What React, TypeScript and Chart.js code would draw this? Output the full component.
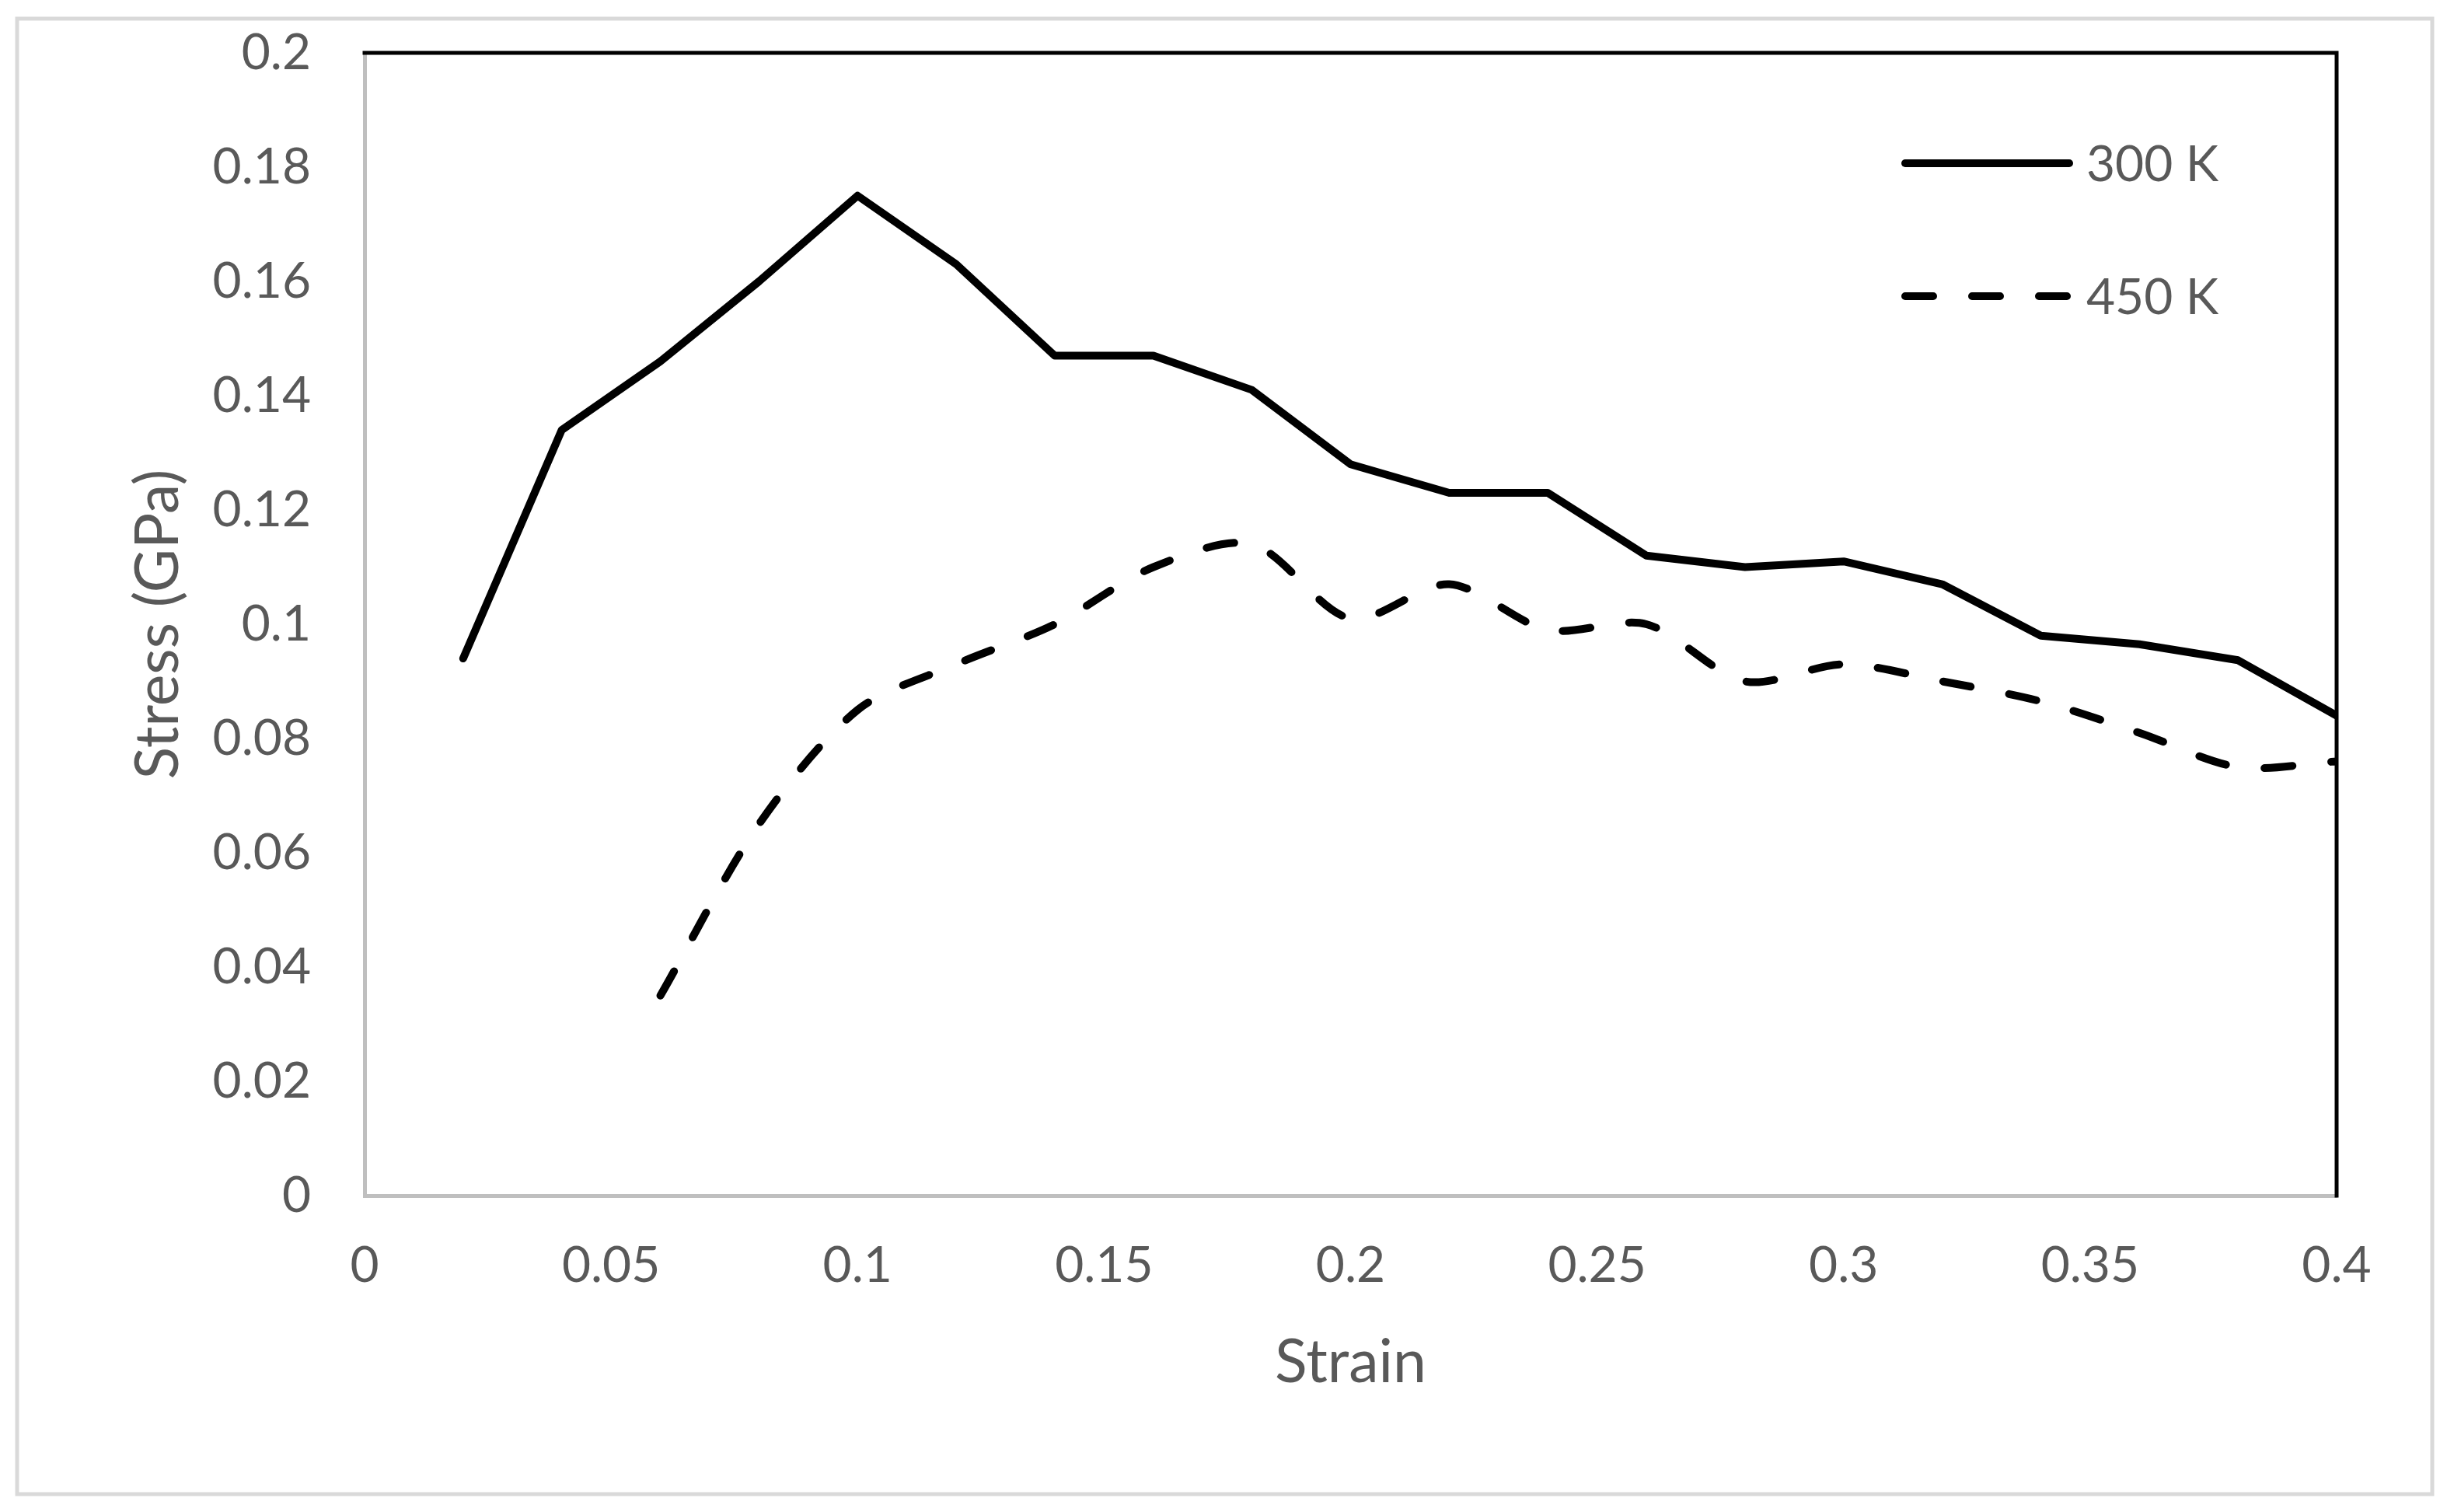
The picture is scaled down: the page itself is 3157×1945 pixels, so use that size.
import React, { useEffect, useRef } from 'react';
import { Chart, registerables } from 'chart.js';

Chart.register(...registerables);

// ---- data ----
const strain300 = [0.02, 0.04, 0.06, 0.08, 0.1, 0.12, 0.14, 0.16, 0.18, 0.2, 0.22, 0.24, 0.26, 0.28, 0.3, 0.32, 0.34, 0.36, 0.38, 0.4];
const stress300 = [0.094, 0.134, 0.146, 0.160, 0.175, 0.163, 0.147, 0.147, 0.141, 0.128, 0.123, 0.123, 0.112, 0.110, 0.111, 0.107, 0.098, 0.0965, 0.0937, 0.084];
const strain450 = [0.06, 0.08, 0.1, 0.12, 0.14, 0.16, 0.18, 0.2, 0.22, 0.24, 0.26, 0.28, 0.3, 0.32, 0.34, 0.36, 0.38, 0.4];
const stress450 = [0.035, 0.065, 0.085, 0.093, 0.100, 0.110, 0.114, 0.101, 0.107, 0.099, 0.100, 0.090, 0.093, 0.090, 0.0865, 0.081, 0.075, 0.076];
const seriesNames = ['300 K', '450 K'];
const xTickValues = [0, 0.05, 0.1, 0.15, 0.2, 0.25, 0.3, 0.35, 0.4];
const yTickValues = [0, 0.02, 0.04, 0.06, 0.08, 0.1, 0.12, 0.14, 0.16, 0.18, 0.2];
const xTitle = 'Strain';
const yTitle = 'Stress (GPa)';

// ---- style ----
const W = 3157;
const H = 1945;
const FONT = 'Lato, "Open Sans", sans-serif';
const TEXT = '#595959';
const LINE_W = 10;
const DASH = [36, 50];
const PLOT_TOP = 68;
const PLOT_BOTTOM = 1538;

const fmt = (v: number) => String(+Number(v).toFixed(2));

const framePlugin = {
  id: 'frameAndLegend',
  beforeDraw(chart: any) {
    const { ctx } = chart;
    ctx.save();
    ctx.fillStyle = '#ffffff';
    ctx.fillRect(0, 0, W, H);
    ctx.strokeStyle = '#d9d9d9';
    ctx.lineWidth = 5;
    ctx.strokeRect(22, 24, 3107, 1898);
    ctx.restore();
  },
  afterDraw(chart: any) {
    const { ctx, chartArea } = chart;
    const { left, right, top, bottom } = chartArea;
    ctx.save();
    ctx.strokeStyle = '#000000';
    ctx.lineWidth = 5;
    ctx.lineCap = 'butt';
    ctx.beginPath();
    ctx.moveTo(left - 2.5, top);
    ctx.lineTo(right, top);
    ctx.lineTo(right, bottom + 2.5);
    ctx.stroke();

    // legend
    const rows = [210, 381];
    chart.data.datasets.forEach((ds: any, i: number) => {
      const y = rows[i];
      ctx.save();
      ctx.strokeStyle = ds.borderColor;
      ctx.lineWidth = ds.borderWidth;
      ctx.lineCap = 'round';
      ctx.setLineDash(ds.borderDash || []);
      ctx.beginPath();
      ctx.moveTo(2451, y);
      ctx.lineTo(2662, y);
      ctx.stroke();
      ctx.restore();
      ctx.fillStyle = TEXT;
      ctx.font = `64px ${FONT}`;
      ctx.textAlign = 'left';
      ctx.textBaseline = 'middle';
      ctx.fillText(ds.label, 2684, y + 2);
    });
    ctx.restore();
  },
};

export default function App() {
  const ref = useRef<HTMLCanvasElement | null>(null);

  useEffect(() => {
    const canvas = ref.current;
    if (!canvas) return;
    const chart = new Chart(canvas, {
      type: 'line',
      data: {
        datasets: [
          {
            label: seriesNames[0],
            data: strain300.map((x, i) => ({ x, y: stress300[i] })),
            borderColor: '#000000',
            borderWidth: LINE_W,
            borderCapStyle: 'round',
            borderJoinStyle: 'round',
            tension: 0,
            pointRadius: 0,
            fill: false,
          },
          {
            label: seriesNames[1],
            data: strain450.map((x, i) => ({ x, y: stress450[i] })),
            borderColor: '#000000',
            borderWidth: LINE_W,
            borderDash: DASH,
            borderCapStyle: 'round',
            borderJoinStyle: 'round',
            tension: 0.3,
            pointRadius: 0,
            fill: false,
          },
        ],
      },
      options: {
        responsive: false,
        maintainAspectRatio: false,
        animation: false,
        devicePixelRatio: 1,
        layout: { padding: { top: PLOT_TOP, right: 151, left: 0, bottom: 0 } },
        plugins: {
          legend: { display: false },
          tooltip: { enabled: false },
        },
        scales: {
          x: {
            type: 'linear',
            min: 0,
            max: 0.4,
            afterFit(s: any) {
              s.height = H - PLOT_BOTTOM;
              s.paddingLeft = 0;
              s.paddingRight = 0;
            },
            afterBuildTicks(s: any) {
              s.ticks = xTickValues.map((value) => ({ value }));
            },
            ticks: {
              padding: 52,
              color: TEXT,
              font: { family: FONT, size: 64 },
              maxRotation: 0,
              autoSkip: false,
              callback: (v: any) => fmt(v),
            },
            grid: { display: true, drawOnChartArea: false, drawTicks: false },
            border: { display: true, color: '#bfbfbf', width: 5 },
            title: {
              display: true,
              text: xTitle,
              color: TEXT,
              font: { family: FONT, size: 77 },
              padding: { top: 0, bottom: 146 },
            },
          },
          y: {
            type: 'linear',
            min: 0,
            max: 0.2,
            afterFit(s: any) {
              s.width = 469;
              s.paddingTop = 0;
              s.paddingBottom = 0;
            },
            afterBuildTicks(s: any) {
              s.ticks = yTickValues.map((value) => ({ value }));
            },
            ticks: {
              padding: 69,
              color: TEXT,
              font: { family: FONT, size: 64 },
              autoSkip: false,
              callback: (v: any) => fmt(v),
            },
            grid: { display: true, drawOnChartArea: false, drawTicks: false },
            border: { display: true, color: '#bfbfbf', width: 5 },
            title: {
              display: true,
              text: yTitle,
              color: TEXT,
              font: { family: FONT, size: 77 },
              padding: { top: 158, bottom: 0 },
            },
          },
        },
      },
      plugins: [framePlugin],
    } as any);
    return () => chart.destroy();
  }, []);

  return (
    <div style={{ position: 'fixed', left: 0, top: 0, width: W, height: H, background: '#ffffff' }}>
      <canvas ref={ref} width={W} height={H} style={{ width: W, height: H, display: 'block' }} />
    </div>
  );
}
